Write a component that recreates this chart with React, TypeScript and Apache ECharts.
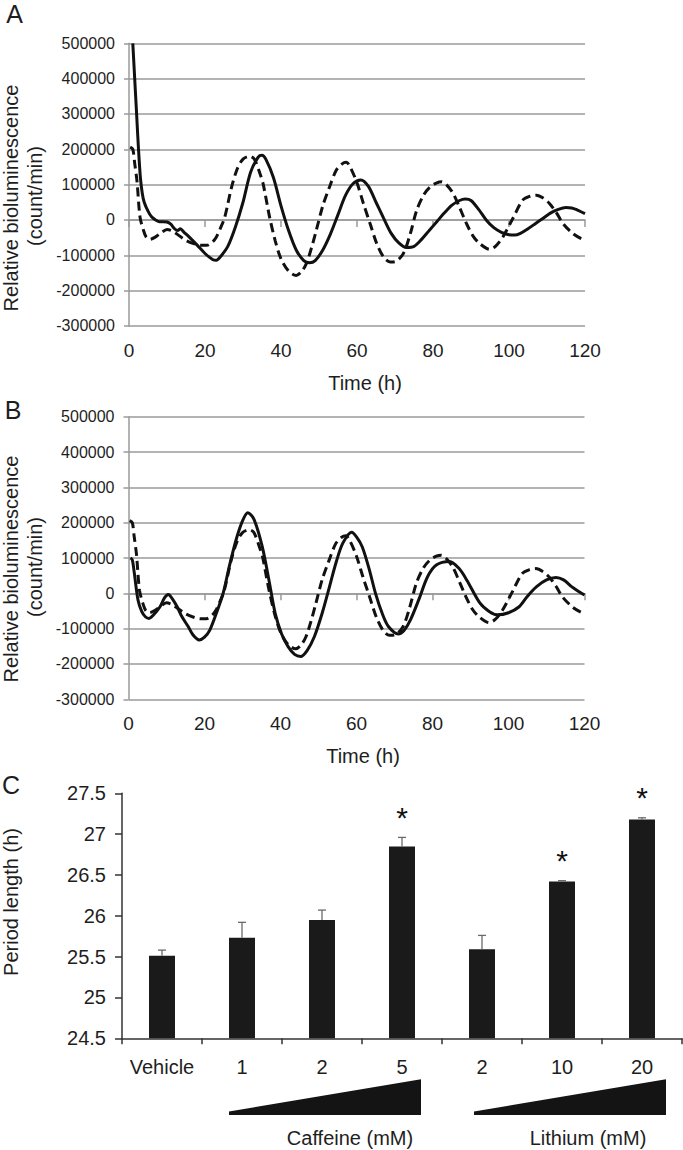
import React, { useEffect, useRef } from "react";
import * as echarts from "echarts";

// ---------- DATA ----------
// Panel A & B: time (h) vs relative bioluminescence (count/min)
const controlTrace: [number, number][] = [
  [0.3, 206000], [1.0, 200000], [1.5, 160000], [2.1, 110000], [2.9, 8000], [3.8, -29000],
  [4.5, -48000], [5.5, -55000], [7, -48000], [8.5, -36000], [10, -27000], [11.5, -32000],
  [13, -43000], [15, -58000], [17, -67000], [19, -72000], [20.5, -72000], [22, -62000],
  [23, -48000], [24, -25000], [25.2, 8000], [27, 93000], [28.5, 145000], [30, 172000],
  [31.8, 180000], [33, 172000], [34.5, 130000], [35.3, 102000], [37, 8000], [38.5, -60000],
  [40, -110000], [42, -145000], [44, -157000], [45.5, -145000], [46.7, -123000], [48, -80000],
  [49.3, -29000], [51, 40000], [52.8, 94000], [54.5, 140000], [56, 158000], [57.2, 163000],
  [58.2, 150000], [60, 105000], [61.7, 46000], [63.5, -12000], [65.2, -67000], [67, -105000],
  [68.7, -119000], [70, -118000], [72.2, -95000], [74, -40000], [75.7, 27000], [77.5, 70000],
  [79.2, 93000], [81, 105000], [82.3, 108000], [83.5, 100000], [85.3, 75000], [87, 35000],
  [88.8, -10000], [90.5, -45000], [92.3, -67000], [94.9, -83000], [96.5, -74000], [98.4, -48000],
  [101, 4000], [103.6, 56000], [105.5, 67000], [107.2, 70000], [109, 62000], [110.7, 46000],
  [112.5, 20000], [114.2, -10000], [116.8, -38500], [119, -53000], [120, -56000],
];

const treatedTraceA: [number, number][] = [
  [1.0, 500000], [1.5, 400000], [2.0, 300000], [2.5, 200000], [3.0, 120000], [3.5, 75000],
  [4.0, 50000], [5, 25000], [6, 8000], [7, 0], [8, -5000], [9, -5000], [10, -6000],
  [11, -12000], [12, -25000], [12.8, -30000], [13.5, -25000], [14.5, -35000], [16, -50000],
  [18, -72000], [20, -95000], [22, -112000], [23, -114000], [24, -105000], [26, -75000],
  [28, -20000], [30, 50000], [32, 135000], [34, 178000], [35, 183000], [36, 172000],
  [38, 120000], [40, 40000], [42, -30000], [44, -85000], [46, -115000], [47.5, -121000],
  [49, -115000], [51, -85000], [53, -40000], [55, 15000], [57, 70000], [59, 103000],
  [61, 113000], [63, 95000], [65, 50000], [67, 5000], [69, -38000], [71, -65000],
  [73, -78000], [75, -75000], [77, -55000], [79, -30000], [81, -5000], [83, 20000],
  [85, 42000], [87, 55000], [88.5, 59000], [90, 55000], [92, 30000], [94, 0], [96, -22000],
  [98, -35000], [100, -42000], [101.5, -43000], [103, -38000], [105, -25000], [107, -10000],
  [109, 5000], [111, 20000], [113, 30000], [115, 35000], [116.5, 34000], [118, 28000],
  [120, 18000],
];

const treatedTraceB: [number, number][] = [
  [0.5, 100000], [1.0, 95000], [1.5, 60000], [2.5, -19000], [3.5, -52000], [4.5, -67000],
  [5.4, -71000], [6.5, -62000], [8.3, -38000], [9.5, -12000], [10.5, -3000], [11.5, -15000],
  [12.8, -38000], [14, -65000], [15.7, -94000], [17, -118000], [18.6, -132000], [20, -124000],
  [21.4, -104000], [23, -60000], [24.9, 0], [26.5, 75000], [28.3, 151000], [30, 205000],
  [31.4, 228000], [33, 210000], [35.2, 132000], [37, 35000], [38.6, -57000], [40.3, -115000],
  [42, -151000], [43.7, -173000], [45.3, -179000], [47, -162000], [48.9, -123000], [51, -55000],
  [52.9, 19000], [54.7, 90000], [56.4, 142000], [58.7, 173000], [60, 160000], [61.5, 132000],
  [63.3, 70000], [65, 0], [66.8, -58000], [68.4, -94000], [71, -115000], [72.5, -105000],
  [74.2, -75000], [76.5, -15000], [78.7, 47000], [81, 80000], [84.5, 90000], [87, 70000],
  [89, 38000], [92.5, -28000], [95, -52000], [97.1, -61000], [100, -55000], [102.8, -38000],
  [105, -8000], [107.4, 19000], [110, 38000], [112.5, 45000], [114.5, 38000], [116.6, 19000],
  [118.5, 5000], [120, -5000],
];

// Panel C: period length
const periodCategories = ["Vehicle", "1", "2", "5", "2", "10", "20"];
const periodMeans = [25.51, 25.73, 25.95, 26.85, 25.59, 26.42, 27.18];
const periodErrors = [0.07, 0.19, 0.12, 0.11, 0.17, 0.01, 0.02];
const periodSignificant = [0, 0, 0, 1, 0, 1, 1];

const timeTicks = { min: 0, max: 120, interval: 20 };
const lumTicks = { min: -300000, max: 500000, interval: 100000 };
const periodTicks = { min: 24.5, max: 27.5, interval: 0.5 };

// ---------- STYLE ----------
const FONT = "'Liberation Sans', Arial, Helvetica, sans-serif";
const TXT = "#1e1e1e";
const GRID_GREY = "#9a9a9a";
const LINE_BLACK = "#111111";

function timeAxis(gridIndex: number) {
  return {
    type: "value",
    gridIndex,
    min: timeTicks.min,
    max: timeTicks.max,
    interval: timeTicks.interval,
    axisLine: { show: true, lineStyle: { color: GRID_GREY, width: 1.5 } },
    axisTick: { show: true, length: 7, lineStyle: { color: GRID_GREY, width: 1.5 } },
    axisLabel: { fontSize: 19, fontFamily: FONT, color: TXT, margin: 15 },
    splitLine: { show: false },
  };
}

function lumAxis(gridIndex: number) {
  return {
    type: "value",
    gridIndex,
    min: lumTicks.min,
    max: lumTicks.max,
    interval: lumTicks.interval,
    axisLine: { show: true, onZero: false, lineStyle: { color: GRID_GREY, width: 1.5 } },
    axisTick: { show: true, length: 5, lineStyle: { color: GRID_GREY, width: 1.5 } },
    axisLabel: {
      fontSize: 16,
      fontFamily: FONT,
      color: TXT,
      margin: 14,
      formatter: (v: number) => String(v),
    },
    splitLine: { show: true, lineStyle: { color: GRID_GREY, width: 1.5 } },
  };
}

function traceSeries(data: [number, number][], idx: number, dashed: boolean) {
  return {
    type: "line",
    xAxisIndex: idx,
    yAxisIndex: idx,
    data,
    showSymbol: false,
    symbol: "none",
    smooth: 0.3,
    lineStyle: { color: LINE_BLACK, width: 3, type: dashed ? [9, 5] : "solid" },
    z: dashed ? 3 : 4,
  };
}

function text(x: number, y: number, t: string, size: number, rot = 0) {
  return {
    type: "text",
    x,
    y,
    rotation: rot,
    style: {
      text: t,
      fontSize: size,
      fontFamily: FONT,
      fill: TXT,
      align: "center",
      verticalAlign: "middle",
    },
  };
}

export default function App() {
  const ref = useRef<HTMLDivElement>(null);

  useEffect(() => {
    if (!ref.current) return;
    const chart = echarts.init(ref.current, undefined, { renderer: "svg" });

    const errorData = periodMeans.map((m, i) => [i, m, periodErrors[i], periodSignificant[i]]);

    const option: any = {
      animation: false,
      backgroundColor: "#ffffff",
      grid: [
        { left: 129, top: 43.3, width: 456, height: 282.6 },
        { left: 128.5, top: 416.7, width: 456, height: 282.6 },
        { left: 122, top: 793.3, width: 560, height: 245 },
      ],
      xAxis: [
        timeAxis(0),
        timeAxis(1),
        {
          type: "category",
          gridIndex: 2,
          data: periodCategories,
          axisLine: { show: true, lineStyle: { color: "#333", width: 1.5 } },
          axisTick: { show: true, length: 6, alignWithLabel: false, lineStyle: { color: "#333", width: 1.5 } },
          axisLabel: { fontSize: 20, fontFamily: FONT, color: TXT, margin: 19, interval: 0 },
          splitLine: { show: false },
        },
      ],
      yAxis: [
        lumAxis(0),
        lumAxis(1),
        {
          type: "value",
          gridIndex: 2,
          min: periodTicks.min,
          max: periodTicks.max,
          interval: periodTicks.interval,
          axisLine: { show: true, lineStyle: { color: "#333", width: 1.5 } },
          axisTick: { show: true, length: 7, lineStyle: { color: "#333", width: 1.5 } },
          axisLabel: { fontSize: 20, fontFamily: FONT, color: TXT, margin: 16 },
          splitLine: { show: false },
        },
      ],
      series: [
        traceSeries(controlTrace, 0, true),
        traceSeries(treatedTraceA, 0, false),
        traceSeries(controlTrace, 1, true),
        traceSeries(treatedTraceB, 1, false),
        {
          type: "bar",
          xAxisIndex: 2,
          yAxisIndex: 2,
          data: periodMeans,
          barWidth: 26,
          itemStyle: { color: "#1a1a1a" },
          z: 2,
        },
        {
          type: "custom",
          xAxisIndex: 2,
          yAxisIndex: 2,
          data: errorData,
          encode: { x: 0, y: 1 },
          z: 5,
          renderItem: (params: any, api: any) => {
            const i = api.value(0);
            const mean = api.value(1);
            const err = api.value(2);
            const sig = api.value(3);
            const base = api.coord([i, mean]);
            const top = api.coord([i, mean + err]);
            const st = { stroke: "#6a6a6a", lineWidth: 1.3 };
            const children: any[] = [
              { type: "line", shape: { x1: base[0], y1: base[1], x2: top[0], y2: top[1] }, style: st },
              { type: "line", shape: { x1: top[0] - 4, y1: top[1], x2: top[0] + 4, y2: top[1] }, style: st },
            ];
            if (sig) {
              children.push({
                type: "text",
                x: top[0],
                y: top[1] - 20,
                style: {
                  text: "*",
                  fontSize: 30,
                  fontFamily: FONT,
                  fill: "#111",
                  align: "center",
                  verticalAlign: "middle",
                },
              });
            }
            return { type: "group", children };
          },
        },
      ],
      graphic: [
        text(14.5, 14, "A", 25),
        text(13, 409.7, "B", 25),
        text(11, 785, "C", 25),
        text(11, 198, "Relative bioluminescence", 20, Math.PI / 2),
        text(35, 196, "(count/min)", 20, Math.PI / 2),
        text(11, 569, "Relative bioluminescence", 20, Math.PI / 2),
        text(35, 567, "(count/min)", 20, Math.PI / 2),
        text(11, 902, "Period length (h)", 20, Math.PI / 2),
        text(365, 383, "Time (h)", 20),
        text(363, 756, "Time (h)", 20),
        text(350, 1138, "Caffeine (mM)", 20),
        text(588, 1138, "Lithium (mM)", 20),
        {
          type: "polygon",
          shape: { points: [[229, 1111.5], [421, 1079.3], [421, 1115], [229, 1115]] },
          style: { fill: "#141414" },
        },
        {
          type: "polygon",
          shape: { points: [[474, 1111.5], [666, 1079.3], [666, 1115], [474, 1115]] },
          style: { fill: "#141414" },
        },
      ],
    };

    chart.setOption(option);
    return () => chart.dispose();
  }, []);

  return (
    <div
      ref={ref}
      style={{ position: "absolute", left: 0, top: 0, width: 683, height: 1150, background: "#fff" }}
    />
  );
}
